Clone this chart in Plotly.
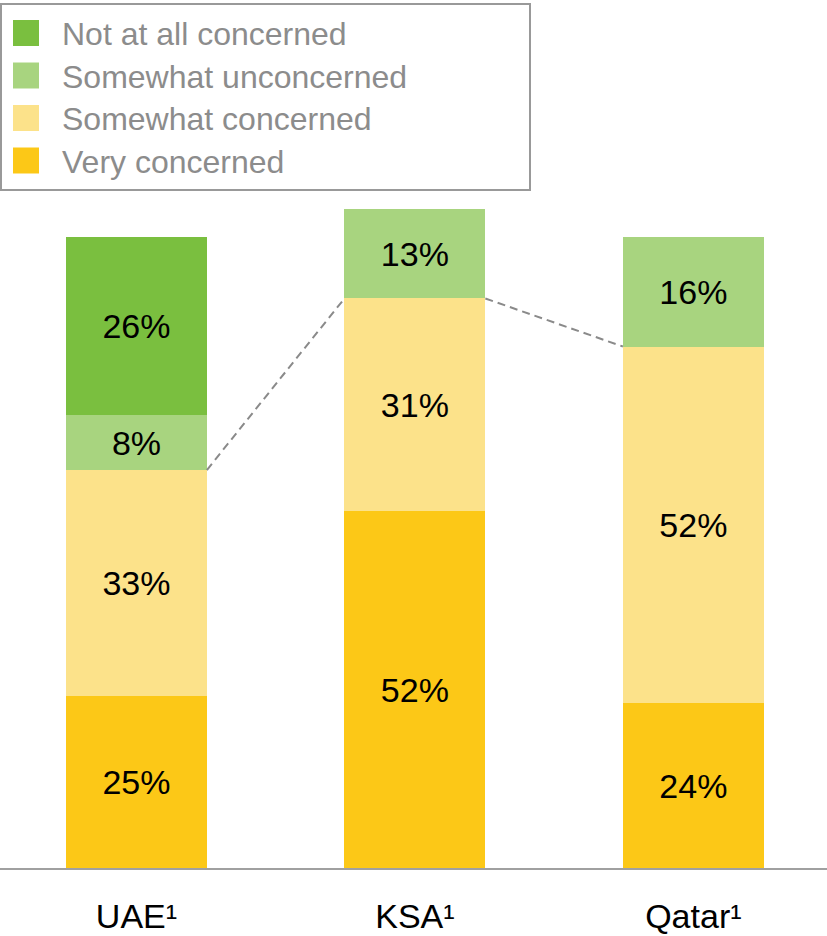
import plotly.graph_objects as go

# Survey results: share of respondents by level of concern
countries = ["UAE¹", "KSA¹", "Qatar¹"]
very_concerned = [25, 52, 24]
somewhat_concerned = [33, 31, 52]
somewhat_unconcerned = [8, 13, 16]
not_at_all_concerned = [26, 0, 0]

series = [
    ("Very concerned", very_concerned, "#FCC817"),
    ("Somewhat concerned", somewhat_concerned, "#FCE28A"),
    ("Somewhat unconcerned", somewhat_unconcerned, "#A8D47F"),
    ("Not at all concerned", not_at_all_concerned, "#7ABF3F"),
]

BAR_W = 0.506
xpos = list(range(len(countries)))
FONT = "Liberation Sans, Arial"

fig = go.Figure()
for name, vals, color in series:
    fig.add_trace(go.Bar(
        x=xpos, y=vals, name=name, width=BAR_W,
        marker=dict(color=color, line=dict(width=0)),
        text=[f"{v}%" if v else "" for v in vals],
        textposition="inside", insidetextanchor="middle", textangle=0,
        textfont=dict(family=FONT, size=34, color="#000000"),
        showlegend=False, hoverinfo="skip",
    ))

# Dashed connectors linking the total "concerned" share between neighbouring bars
concerned_total = [a + b for a, b in zip(very_concerned, somewhat_concerned)]
for i in range(len(countries) - 1):
    fig.add_trace(go.Scatter(
        x=[xpos[i] + BAR_W / 2, xpos[i + 1] - BAR_W / 2],
        y=[concerned_total[i], concerned_total[i + 1]],
        mode="lines", line=dict(color="#8a8a8a", width=2, dash="8px,5px"),
        showlegend=False, hoverinfo="skip",
    ))

# Legend box drawn as shapes + text (paper coordinates)
W, H_PLOT = 827.0, 868.0
def px_x(x):
    return x / W
def px_y(y):
    return (H_PLOT - y) / H_PLOT

shapes = [dict(type="rect", xref="paper", yref="paper",
               x0=px_x(1), x1=px_x(530), y0=px_y(190), y1=px_y(4),
               line=dict(color="#999999", width=2), fillcolor="rgba(0,0,0,0)")]
annotations = []
legend_order = list(reversed(series))
for k, (name, _, color) in enumerate(legend_order):
    cy = 33 + k * 42.5
    shapes.append(dict(type="rect", xref="paper", yref="paper",
                       x0=px_x(13), x1=px_x(39), y0=px_y(cy + 13), y1=px_y(cy - 13),
                       line=dict(width=0), fillcolor=color))
    annotations.append(dict(xref="paper", yref="paper", x=px_x(60), y=px_y(cy + 1),
                            xanchor="left", yanchor="middle", showarrow=False,
                            text=name,
                            font=dict(family=FONT, size=32, color="#8c8c8c")))

fig.update_layout(
    barmode="stack",
    width=827, height=936,
    margin=dict(l=0, r=0, t=0, b=68, autoexpand=False),
    paper_bgcolor="white", plot_bgcolor="white",
    shapes=shapes, annotations=annotations,
    showlegend=False,
    xaxis=dict(range=[-0.49, 2.48], tickvals=xpos, ticktext=countries,
               showgrid=False, zeroline=False, automargin=False,
               showline=True, linecolor="#a0a0a0", linewidth=2,
               ticks="", ticklabelstandoff=17,
               tickfont=dict(family=FONT, size=34, color="#000000")),
    yaxis=dict(range=[0, 126.5], visible=False, automargin=False),
)

fig.write_html("out.html")
